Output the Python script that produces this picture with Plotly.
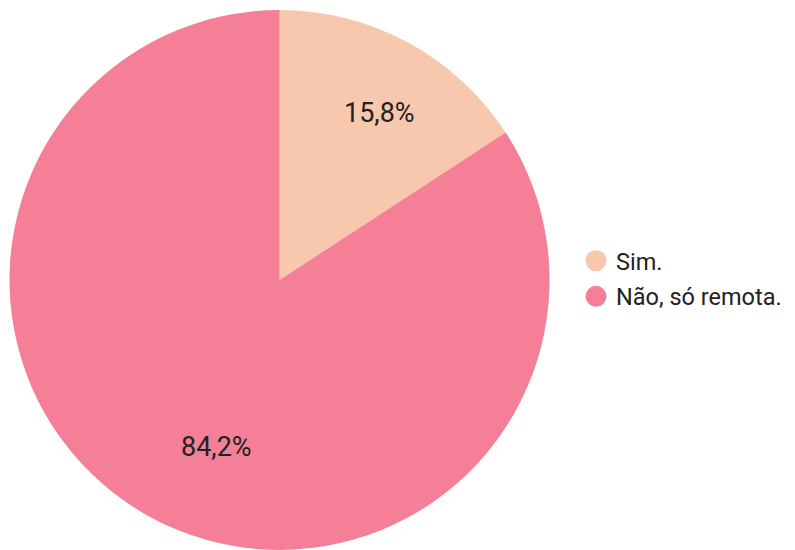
import math
import plotly.graph_objects as go

labels = ["Sim.", "Não, só remota."]
values = [15.8, 84.2]
colors = ["#F8C8AE", "#F47F97"]

# figure a bit wider than the window so the legend is not squeezed at the edge
W, H = 830, 550
# pie geometry in px (page body adds an 8px offset)
CX, CY, R = 271.5, 272.0, 270.0

fig = go.Figure()
fig.add_trace(
    go.Pie(
        labels=labels, values=values, sort=False, direction="clockwise",
        marker=dict(colors=colors, line=dict(width=0)),
        textinfo="none",
        domain=dict(x=[(CX - R) / W, (CX + R) / W],
                    y=[1 - (CY + R) / H, 1 - (CY - R) / H]),
        showlegend=False, hoverinfo="label+percent",
    )
)

# percentage labels placed on each slice's bisector
total = sum(values)
start = 0.0
for v in values:
    mid = (start + v / 2) / total * 2 * math.pi
    start += v
    px = CX + 0.78 * R * math.sin(mid)
    py = CY - 0.78 * R * math.cos(mid)
    fig.add_annotation(
        x=px / W, y=1 - py / H, xref="paper", yref="paper",
        text=f"{v / total * 100:.1f}%".replace(".", ","), showarrow=False,
        font=dict(family="Roboto", size=27, color="#222222"),
    )

# circle legend entries (pie legend only draws squares)
for i, (lab, col) in enumerate(zip(labels, colors)):
    fig.add_trace(
        go.Scatter(
            x=[None], y=[None], mode="markers", name=lab,
            legendgroup=f"g{i}",
            marker=dict(symbol="circle", size=16, color=col,
                        line=dict(width=5, color=col)),
        )
    )

fig.update_layout(
    width=W, height=H,
    margin=dict(l=0, r=0, t=0, b=0),
    paper_bgcolor="white", plot_bgcolor="white",
    font=dict(family="Roboto", size=24, color="#222222"),
    xaxis=dict(visible=False), yaxis=dict(visible=False),
    legend=dict(
        x=568 / W, xanchor="left", y=1 - 271 / H, yanchor="middle",
        font=dict(family="Roboto", size=23.5, color="#222222"),
        itemsizing="trace", tracegroupgap=2, borderwidth=0,
        bgcolor="rgba(0,0,0,0)",
    ),
)

fig.write_html("out.html")
